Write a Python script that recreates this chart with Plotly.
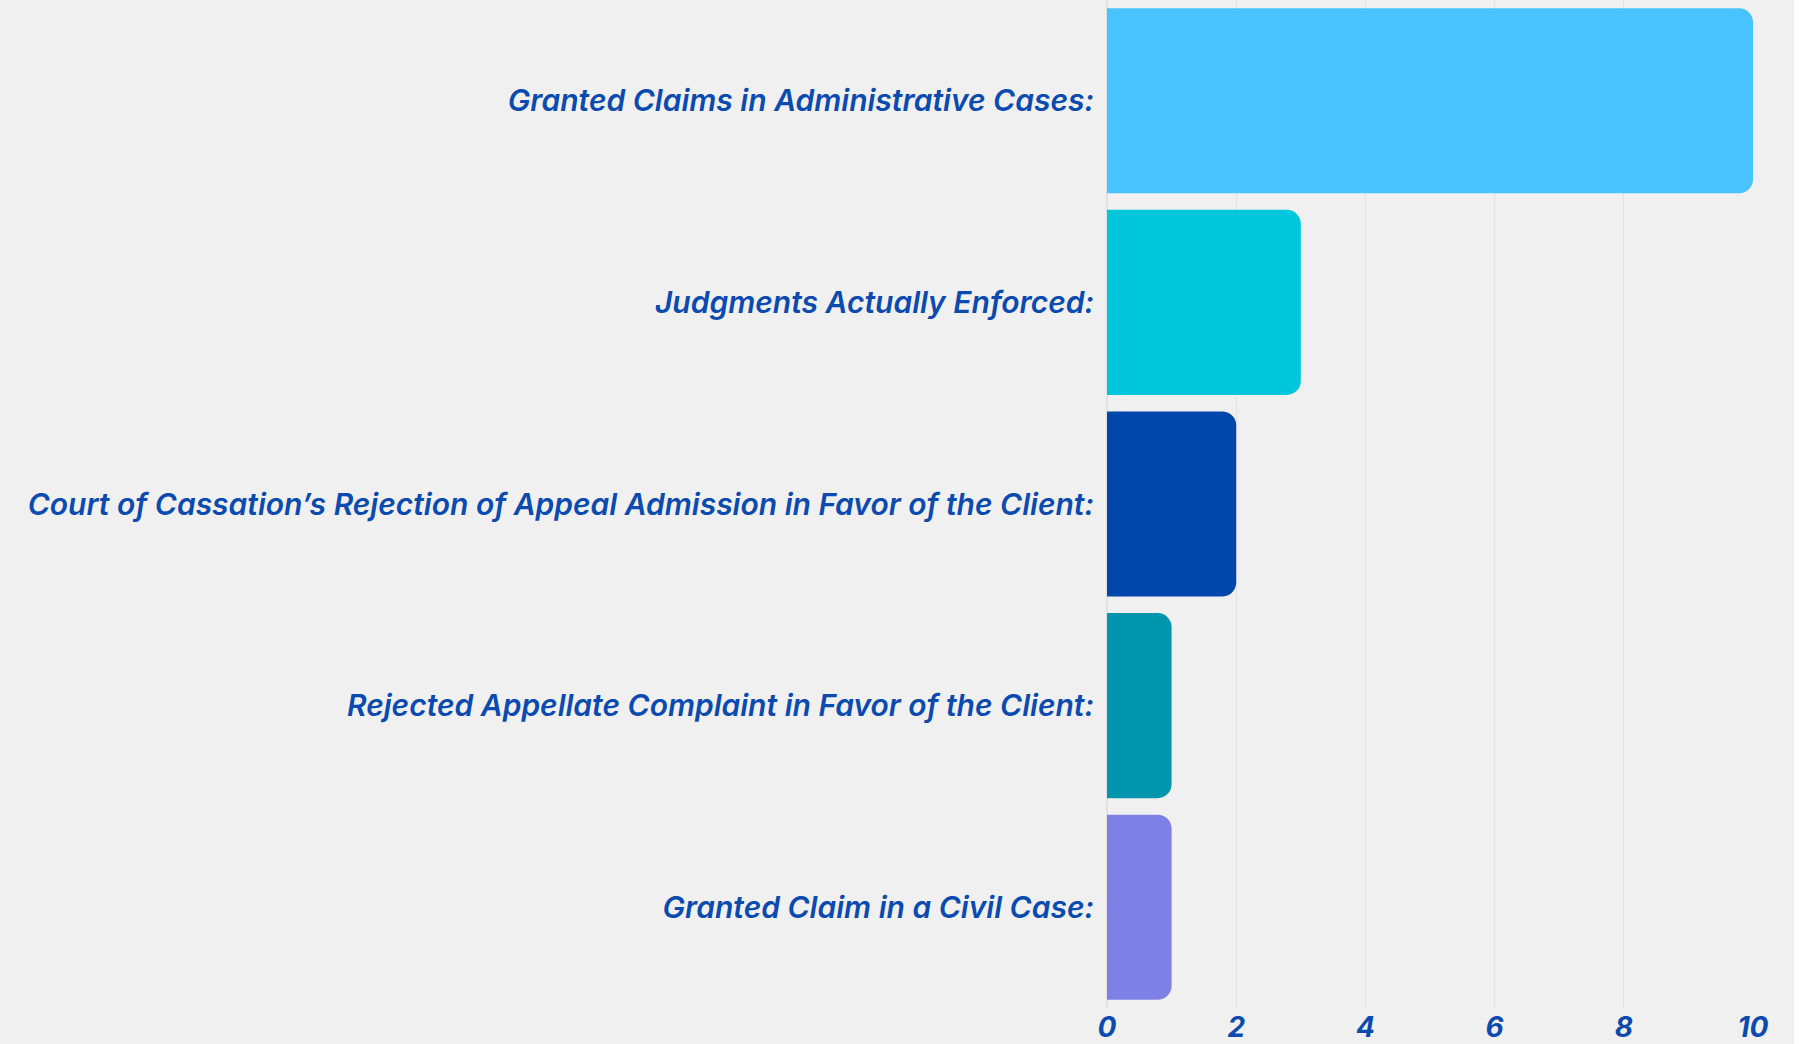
import plotly.graph_objects as go

categories = [
    "Granted Claims in Administrative Cases:",
    "Judgments Actually Enforced:",
    "Court of Cassation’s Rejection of Appeal Admission in Favor of the Client:",
    "Rejected Appellate Complaint in Favor of the Client:",
    "Granted Claim in a Civil Case:",
]
values = [10, 3, 2, 1, 1]
colors = ["#48C3FD", "#00C7DB", "#0047AB", "#0096AE", "#7F80E6"]
tick_vals = [0, 2, 4, 6, 8, 10]

text_color = "#0B4AAF"
bg = "#F0F0F0"

fig = go.Figure(
    go.Bar(
        x=values,
        y=categories,
        orientation="h",
        marker=dict(color=colors, cornerradius=14, line=dict(width=0)),
        hoverinfo="x+y",
    )
)

fig.update_layout(
    width=1809,
    height=1044,
    margin=dict(l=1107, r=56, t=0, b=36),
    paper_bgcolor=bg,
    plot_bgcolor=bg,
    bargap=0.082,
    showlegend=False,
    shapes=[
        dict(type="rect", xref="paper", yref="paper",
             x0=(1794 - 1107) / 646, x1=1.2, y0=-0.2, y1=1.2,
             fillcolor="#FFFFFF", line=dict(width=0), layer="below"),
    ],
)

fig.update_xaxes(
    range=[0, 10],
    automargin=False,
    tickvals=tick_vals,
    ticktext=[str(v) for v in tick_vals],
    showgrid=True,
    gridcolor="#E2E2E2",
    gridwidth=1,
    zeroline=True,
    zerolinecolor="#E2E2E2",
    showline=False,
    ticks="",
    ticklabelstandoff=0,
    tickfont=dict(family="Inter", size=28, color=text_color, weight=700, style="italic"),
)

fig.update_yaxes(
    categoryorder="array",
    categoryarray=categories[::-1],
    automargin=False,
    showgrid=False,
    zeroline=False,
    ticks="",
    ticklabelstandoff=12,
    tickfont=dict(family="Inter", size=30, color=text_color, weight=600, style="italic"),
)

fig.write_html("out.html")
